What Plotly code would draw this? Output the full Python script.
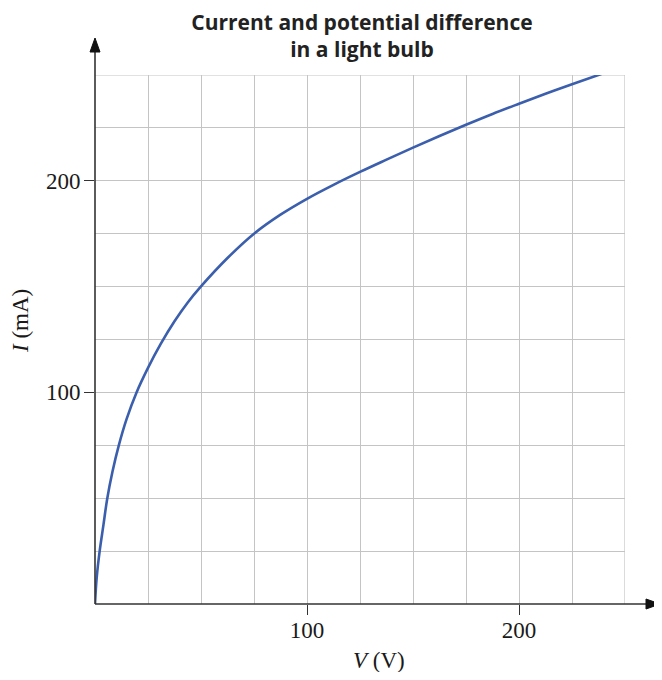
import plotly.graph_objects as go

# ----------------------------------------------------------------------
# Data (V in volts, I in mA)
# ----------------------------------------------------------------------
voltage = [0, 0.8, 2.2, 4.0, 5.8, 8.23, 11.23, 14.93, 19.6, 25, 31, 37.5, 43.75, 50,
           62.5, 75, 87.5, 100, 112.5, 125, 137.5, 150, 162.5, 175, 187.5,
           200, 212.5, 225, 240]
current = [0, 12.5, 25, 37.5, 50, 62.5, 75, 87.5, 100, 111.6, 122.9, 133.6, 142.5, 150.1,
           163.5, 175, 184, 191.5, 198.1, 204.2, 210, 215.7, 221.2, 226.5, 231.6,
           236.4, 241.1, 245.6, 250.9]

x_ticks = [100, 200]
y_ticks = [100, 200]

# page is offset by the 8px body margin, so the layout is shifted by that much
W, H = 654, 664
L, T = 87, 67
PW, PH = 530, 529
R, B = W - L - PW, H - T - PH
grid = "#c4c4c4"
axis_col = "#333333"
text_col = "#1a1a1a"
serif = "Liberation Serif, Times New Roman, serif"

fig = go.Figure()
fig.add_trace(go.Scatter(x=voltage, y=current, mode="lines",
                         line=dict(color="#3b5fad", width=2.6, shape="spline", smoothing=1),
                         hoverinfo="skip", showlegend=False))

axis_common = dict(
    range=[0, 250], showgrid=True, gridcolor=grid, gridwidth=1.2,
    zeroline=False, showline=False, ticks="outside", ticklen=10,
    tickwidth=1.3, tickcolor=axis_col,
    tickfont=dict(family=serif, size=23, color=text_col),
    minor=dict(dtick=25, showgrid=True, gridcolor=grid, gridwidth=1.2, ticks=""),
)
fig.update_xaxes(tickvals=x_ticks, ticklabelstandoff=-5, **axis_common)
fig.update_yaxes(tickvals=y_ticks, ticklabelstandoff=-1, **axis_common)

# top and right borders of the grid
fig.add_shape(type="path", xref="x", yref="y",
              path="M 0 250 L 250 250 L 250 0",
              line=dict(color=grid, width=1.2), layer="below")

# axis lines with arrowheads (pixel offsets from the origin)
pix = dict(xref="paper", yref="paper", xsizemode="pixel", ysizemode="pixel",
           xanchor=0, yanchor=0)
fig.add_shape(type="path", path="M 0 0 L 553 0", line=dict(color=axis_col, width=1.6), **pix)
fig.add_shape(type="path", path="M 0 0 L 0 553", line=dict(color=axis_col, width=1.6), **pix)
fig.add_shape(type="path", path="M 551 -5 L 565 0 L 551 5 Z", fillcolor="#111",
              line=dict(color="#111", width=1), **pix)
fig.add_shape(type="path", path="M -5 552 L 0 566 L 5 552 Z", fillcolor="#111",
              line=dict(color="#111", width=1), **pix)

fig.add_annotation(text="<i>V</i> (V)", xref="paper", yref="paper",
                   x=284 / PW, y=-56 / PH, showarrow=False,
                   font=dict(family=serif, size=23, color=text_col),
                   xanchor="center", yanchor="middle")
fig.add_annotation(text="<i>I</i> (mA)", xref="paper", yref="paper",
                   x=-75 / PW, y=283 / PH, showarrow=False,
                   textangle=-90,
                   font=dict(family=serif, size=23, color=text_col),
                   xanchor="center", yanchor="middle")

fig.update_layout(
    width=W, height=H,
    margin=dict(l=L, r=R, t=T, b=B),
    paper_bgcolor="white", plot_bgcolor="white",
    title=dict(text="<b>Current and potential difference<br>in a light bulb</b>",
               x=354 / W, xanchor="center", y=1 - 22 / H, yanchor="middle",
               font=dict(family="Open Sans, sans-serif", size=21, color="#222")),
)

fig.write_html("out.html")
